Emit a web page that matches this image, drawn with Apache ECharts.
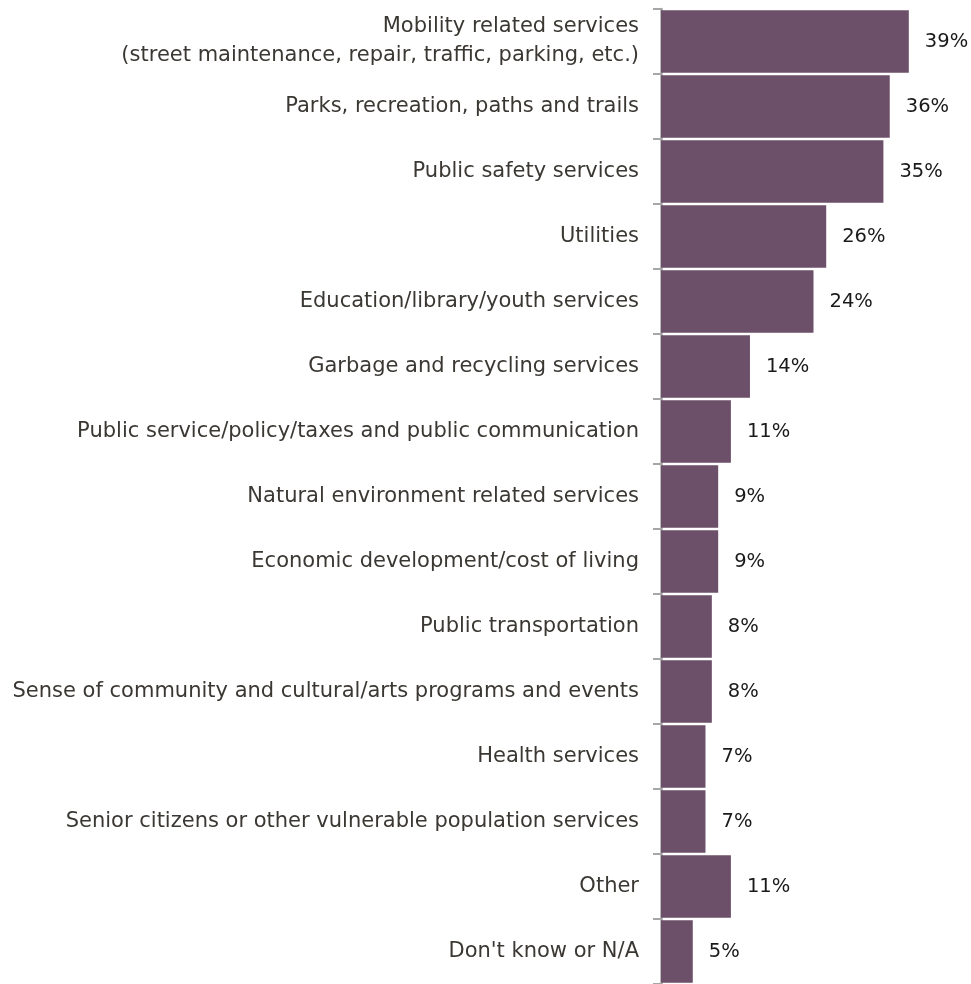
<!DOCTYPE html>
<html><head><meta charset="utf-8">
<script src="https://cdn.jsdelivr.net/npm/echarts@6/dist/echarts.min.js"></script>
<style>html,body{margin:0;padding:0;background:#fff}#c{width:971px;height:984px}</style>
</head><body><div id="c"></div>
<script>
const categories = [
  "Mobility related services\n(street maintenance, repair, traffic, parking, etc.)",
  "Parks, recreation, paths and trails",
  "Public safety services",
  "Utilities",
  "Education/library/youth services",
  "Garbage and recycling services",
  "Public service/policy/taxes and public communication",
  "Natural environment related services",
  "Economic development/cost of living",
  "Public transportation",
  "Sense of community and cultural/arts programs and events",
  "Health services",
  "Senior citizens or other vulnerable population services",
  "Other",
  "Don't know or N/A"
];
const values = [39, 36, 35, 26, 24, 14, 11, 9, 9, 8, 8, 7, 7, 11, 5];

const chart = echarts.init(document.getElementById('c'));
chart.setOption({
  animation: false,
  grid: { left: 661, right: 5, top: 9, bottom: -2.4, containLabel: false },
  xAxis: { type: 'value', min: 0, max: 48, show: false },
  yAxis: {
    type: 'category', inverse: true, data: categories,
    axisLine: { show: true, lineStyle: { color: '#A6A6A6', width: 2.5 } },
    axisTick: { show: true, length: 8, lineStyle: { color: '#A6A6A6', width: 2 } },
    axisLabel: { margin: 22, color: '#3B3833', fontFamily: 'DejaVu Sans', fontSize: 21, lineHeight: 29, align: 'right', padding: [4, 0, 0, 0] },
    splitLine: { show: false }
  },
  series: [{
    type: 'bar', data: values, barCategoryGap: '4%',
    itemStyle: { color: '#6C5069' },
    label: { show: true, position: 'right', distance: 16, formatter: '{c}%', color: '#1a1a1a', fontFamily: 'DejaVu Sans', fontSize: 19.5, padding: [3, 0, 0, 0] }
  }]
});
</script></body></html>
